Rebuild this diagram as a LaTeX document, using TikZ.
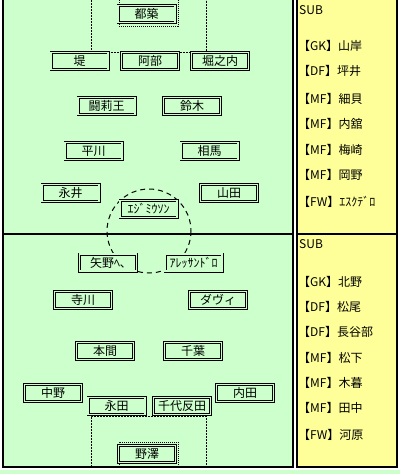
\documentclass[tikz,border=0pt]{standalone}
\usepackage{fontspec}
\setmainfont{Noto Sans CJK JP}
\definecolor{pitch}{HTML}{CCFFCC}
\definecolor{bench}{HTML}{FFFF99}

\begin{document}
\begin{tikzpicture}[x=1pt,y=-1pt,
  player/.style={draw,fill=pitch,double=pitch,line width=0.9pt,double distance=1.2pt,
    minimum width=57pt,minimum height=17pt,inner sep=0pt,font=\fontsize{12}{12}\selectfont},
  subname/.style={anchor=west,inner sep=0pt,font=\fontsize{12}{12}\selectfont},
  area/.style={line width=1pt,dash pattern=on 2pt off 1pt},
  edge/.style={line width=2pt}]
\useasboundingbox (0,0) rectangle (400,474);
\fill[white] (0,0) rectangle (400,474);
\fill[pitch] (0,470) rectangle (400,474);
% Pitch
\fill[pitch] (3,0) rectangle (293,467);
\draw[area] (91,0) -- (91,52) -- (206,52) -- (206,0);
\draw[area,dash pattern=on 1pt off 1pt] (119,0) -- (119,26) -- (178,26) -- (178,0);
\draw[area] (91,467) -- (91,416) -- (206,416) -- (206,467);
\draw[area,dash pattern=on 1pt off 1pt] (119,467) -- (119,442) -- (178,442) -- (178,467);
\draw[line width=1pt,dash pattern=on 5pt off 4pt] (149,231) circle[radius=42];
\draw[edge] (3,234) -- (293,234);
\draw[edge] (3,0) -- (3,467) -- (293,467) -- (293,0);
% Bench
\fill[bench] (297,0) rectangle (397,467);
\draw[edge] (297,0) -- (297,467) -- (397,467) -- (397,0);
\draw[edge] (297,234) -- (397,234);
% Upper team
\node[player] (gkA) at (146.5,14) {都築};
\node[player] (dfA1) at (79.5,61) {堤};
\node[player] (dfA2) at (150,61) {阿部};
\node[player] (dfA3) at (220,61) {堀之内};
\node[player] (mfA1) at (106.5,106) {闘莉王};
\node[player] (mfA2) at (192,106) {鈴木};
\node[player] (mfA3) at (93.5,151) {平川};
\node[player] (mfA4) at (209.5,151) {相馬};
\node[player] (mfA5) at (70.5,193) {永井};
\node[player] (mfA6) at (229,193) {山田};
\node[player] (fwA) at (148.5,209) {ｴｼﾞﾐｳｿﾝ};
% Lower team
\node[player] (fwB1) at (108,262.5) {矢野ﾍ､};
\node[player] (fwB2) at (193.5,262.5) {ｱﾚｯｻﾝﾄﾞﾛ};
\node[player] (mfB1) at (83,300) {寺川};
\node[player] (mfB2) at (218,300) {ダヴィ};
\node[player] (mfB3) at (105,351) {本間};
\node[player] (mfB4) at (193,351) {千葉};
\node[player] (dfB1) at (53,393) {中野};
\node[player] (dfB2) at (245,393) {内田};
\node[player] (dfB3) at (116.5,406) {永田};
\node[player] (dfB4) at (182,406) {千代反田};
\node[player] (gkB) at (147,454) {野澤};
% Substitutes
\node[subname] (subA) at (299,10) {SUB};
\node[subname] (subA1) at (298,46) {【GK】山岸};
\node[subname] (subA2) at (298,71) {【DF】坪井};
\node[subname] (subA3) at (298,99) {【MF】細貝};
\node[subname] (subA4) at (298,124) {【MF】内舘};
\node[subname] (subA5) at (298,150) {【MF】梅崎};
\node[subname] (subA6) at (298,175) {【MF】岡野};
\node[subname] (subA7) at (298,202) {【FW】ｴｽｸﾃﾞﾛ};
\node[subname] (subB) at (299,244) {SUB};
\node[subname] (subB1) at (298,282) {【GK】北野};
\node[subname] (subB2) at (298,307) {【DF】松尾};
\node[subname] (subB3) at (298,332) {【DF】長谷部};
\node[subname] (subB4) at (298,358) {【MF】松下};
\node[subname] (subB5) at (298,383) {【MF】木暮};
\node[subname] (subB6) at (298,408) {【MF】田中};
\node[subname] (subB7) at (298,435) {【FW】河原};
\end{tikzpicture}
\end{document}
